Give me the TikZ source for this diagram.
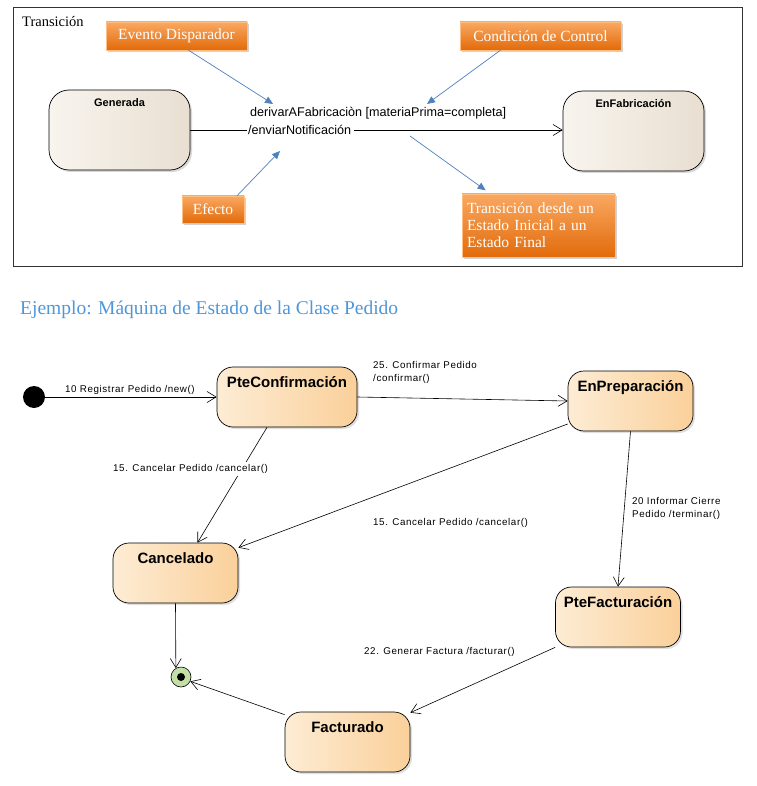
\documentclass[tikz,border=0pt]{standalone}
\usepackage{fontspec}
\setmainfont{Liberation Serif}
\setsansfont{Liberation Sans}
\newfontfamily\lblfont[LetterSpace=6]{Liberation Sans}
\usetikzlibrary{arrows.meta,shadows}
\definecolor{obtop}{HTML}{F9A862}
\definecolor{obbot}{HTML}{E26B0A}
\definecolor{stA1}{HTML}{F8F4EE}
\definecolor{stA2}{HTML}{E8DFD1}
\definecolor{stB1}{HTML}{FDECD4}
\definecolor{stB2}{HTML}{FAD09A}
\definecolor{bluear}{HTML}{4F81BD}
\definecolor{titleblue}{HTML}{4F97D9}
\definecolor{fingreen}{HTML}{C3DFA6}
\begin{document}
\begin{tikzpicture}[x=1pt,y=-1pt,
  obox/.style={rectangle, draw=orange!50!white, line width=0.4pt, top color=obtop, bottom color=obbot,
    text=white, font=\fontsize{15.5}{17}\selectfont, inner sep=0pt,
    drop shadow={shadow xshift=2pt,shadow yshift=-2pt,opacity=0.35}},
  stateA/.style={rectangle, rounded corners=20pt, draw=black, line width=0.7pt, left color=stA1, right color=stA2,
    minimum width=141pt, minimum height=80pt, inner sep=0pt,
    drop shadow={shadow xshift=2pt,shadow yshift=-2pt,opacity=0.3}},
  stateB/.style={rectangle, rounded corners=16pt, draw=black, line width=0.7pt, left color=stB1, right color=stB2,
    minimum width=125pt, minimum height=60pt, inner sep=0pt,
    drop shadow={shadow xshift=2pt,shadow yshift=-2pt,opacity=0.25}},
  stnameA/.style={anchor=north, yshift=-5pt, font=\sffamily\bfseries\fontsize{11}{13}\selectfont},
  stnameB/.style={anchor=north, yshift=-6pt, font=\sffamily\bfseries\fontsize{15}{17}\selectfont},
  tr/.style={draw=black, line width=0.6pt, -{Straight Barb[length=9pt,width=11pt]}},
  blue/.style={draw=bluear, line width=0.7pt, -{Triangle[length=8pt,width=7pt]}},
  lbl/.style={font=\lblfont\fontsize{9.8}{13}\selectfont, inner sep=0pt, align=left},
  ttext/.style={font=\sffamily\fontsize{12.6}{14}\selectfont, inner sep=0pt}
]
\useasboundingbox (0,0) rectangle (756,786);
\fill[white] (0,0) rectangle (756,786);

% ---------- Transition frame ----------
\draw[line width=1pt, draw=black!80] (13,8) rectangle (742,266);
\node[anchor=west, font=\fontsize{14.5}{16}\selectfont, inner sep=0pt] (trtitle) at (22,22) {Transición};

\node[stateA, label={[stnameA]north:Generada}] (gen) at (119.5,130) {};
\node[stateA, label={[stnameA]north:EnFabricación}] (enf) at (633.5,131) {};

\node[ttext, anchor=west] (t1) at (250,113) {derivarAFabricaciòn [materiaPrima=completa]};
\node[ttext, anchor=west] (t2) at (248,130) {/enviarNotificación};

\draw[line width=0.6pt] (gen.east) -- ([xshift=-1pt]t2.west);
\draw[tr] ([xshift=3pt]t2.east) -- (enf.west |- t2.east);

\node[obox, minimum width=141pt, minimum height=28pt] (ev) at (176.5,36) {Evento Disparador};
\node[obox, minimum width=161pt, minimum height=28pt] (cc) at (540.5,36) {Condición de Control};
\node[obox, minimum width=62pt, minimum height=27pt] (ef) at (213,209.5) {Efecto};
\node[obox, minimum width=153pt, minimum height=63pt, align=left, text width=143pt,
      font=\fontsize{15.5}{17}\selectfont] (tdesde) at (538.5,225.5) {Transición desde un\\Estado Inicial a un\\Estado Final};

\coordinate (pEv) at (273,104);
\coordinate (pCc) at (427,104);
\coordinate (pEf) at (280,151);
\coordinate (pTa) at (410,136);
\draw[blue] ([xshift=12pt]ev.south) -- (pEv);
\draw[blue] ([xshift=-40pt]cc.south) -- (pCc);
\draw[blue] ([xshift=24pt]ef.north) -- (pEf);
\draw[blue, shorten >=6pt] (pTa) -- ([xshift=-48pt]tdesde.north);

% ---------- Title ----------
\node[anchor=west, inner sep=0pt, text=titleblue, font=\fontsize{19.5}{21}\selectfont] (ttl) at (20,310) {Ejemplo: Máquina de Estado de la Clase Pedido};

% ---------- State machine ----------
\node[circle, fill=black, minimum size=22pt, inner sep=0pt] (ini) at (34,397) {};
\node[stateB, minimum width=140pt, label={[stnameB]north:PteConfirmación}] (pc) at (287,397) {};
\node[stateB, label={[stnameB]north:EnPreparación}] (ep) at (630.5,401) {};
\node[stateB, label={[stnameB]north:Cancelado}] (can) at (175.5,573) {};
\node[stateB, label={[stnameB]north:PteFacturación}] (pf) at (618,617) {};
\node[stateB, label={[stnameB]north:Facturado}] (fac) at (347.5,742) {};
\node[circle, draw=black, line width=0.6pt, fill=fingreen, minimum size=20pt, inner sep=0pt,
      path picture={\fill[black] (path picture bounding box.center) circle (4pt);}] (fin) at (181,677) {};

\draw[tr] (ini.east) -- (pc.west);
\draw[tr] (pc.east) -- (ep.west);
\draw[tr] ([xshift=-20pt]pc.south) -- ([xshift=22pt]can.north);
\draw[tr] ([yshift=-23pt]ep.west) -- ([yshift=-5pt]can.north east);
\draw[tr] (ep.south) -- (pf.north);
\draw[tr] (pf.south west) -- ([yshift=-1pt]fac.north east);
\draw[tr] (can.south) -- (fin.120);
\draw[tr] ([yshift=-3pt]fac.north west) -- (fin.-25);

\node[lbl, anchor=west] (l1) at (65,390) {10 Registrar Pedido /new()};
\node[lbl, anchor=west] (l2) at (373,372.5) {25. Confirmar Pedido\\/confirmar()};
\node[lbl, anchor=west, fill=white, inner ysep=2pt] (l3) at (113,469) {15. Cancelar Pedido /cancelar()};
\node[lbl, anchor=west] (l4) at (373,523) {15. Cancelar Pedido /cancelar()};
\node[lbl, anchor=west] (l5) at (632,508.5) {20 Informar Cierre\\Pedido /terminar()};
\node[lbl, anchor=west] (l6) at (364,652) {22. Generar Factura /facturar()};
\end{tikzpicture}
\end{document}
